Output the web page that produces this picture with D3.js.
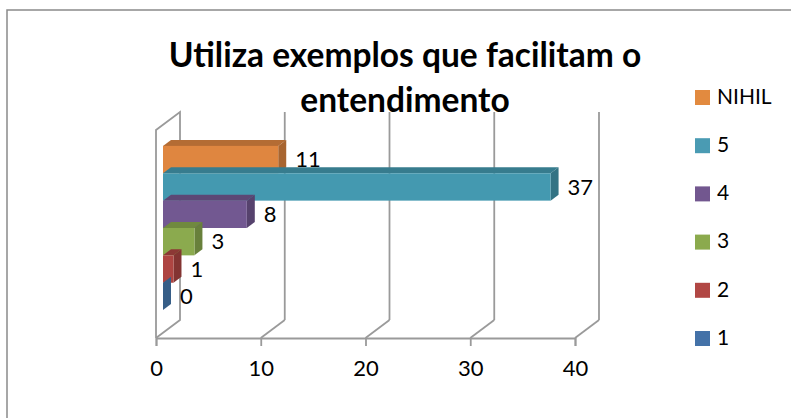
<!DOCTYPE html>
<html>
<head>
<meta charset="utf-8">
<script src="https://cdn.jsdelivr.net/npm/d3@7"></script>
<style>
  body { margin: 0; background: #fff; }
  svg { display: block; font-family: Lato, "Open Sans", sans-serif; }
</style>
</head>
<body>
<svg id="chart" width="791" height="418"></svg>
<script>
// series names, top to bottom as in the legend
const seriesNames = ['NIHIL', '5', '4', '3', '2', '1'];
const seriesValues = [11, 37, 8, 3, 1, 0];
const faceColors = ['#DF8640', '#4499B0', '#725891', '#8BAA4E', '#AE4542', '#3F6C9C'];
const legendColors = ['#E28A3F', '#4A9BB3', '#72578F', '#8BAA4D', '#B14744', '#4472A8'];
const xTicks = [0, 10, 20, 30, 40];
const titleLines = ['Utiliza exemplos que facilitam o', 'entendimento'];

const svg = d3.select('#chart');

// outer chart border (runs off the right and bottom)
svg.append('rect')
  .attr('x', 7).attr('y', 10)
  .attr('width', 800).attr('height', 420)
  .attr('fill', 'none').attr('stroke', '#8a8a8a').attr('stroke-width', 1.5);

// plot geometry: front plane + depth offset
const plotTop = 130, plotBottom = 338;
const depth = {dx: 24, dy: -18};
const barZ0 = {dx: 7, dy: -6}, barZ1 = {dx: 15, dy: -12};

const x = d3.scaleLinear().domain([0, 40]).range([156, 575]);
const y = d3.scaleBand()
  .domain(seriesNames.slice().reverse())
  .range([plotBottom, plotTop])
  .paddingInner(0)
  .paddingOuter(0.8);

const grid = svg.append('g')
  .attr('stroke', '#9a9a9a').attr('stroke-width', 1.8).attr('fill', 'none');

// left wall
grid.append('path').attr('d', d3.line()([
  [x(0), plotBottom], [x(0), plotTop],
  [x(0) + depth.dx, plotTop + depth.dy], [x(0) + depth.dx, plotBottom + depth.dy],
  [x(0), plotBottom]
]));

// back wall gridlines and floor diagonals
xTicks.forEach(t => {
  const bx = x(t) + depth.dx;
  if (t > 0) {
    grid.append('line')
      .attr('x1', bx).attr('x2', bx)
      .attr('y1', plotTop + depth.dy).attr('y2', plotBottom + depth.dy);
    grid.append('line')
      .attr('x1', x(t)).attr('y1', plotBottom)
      .attr('x2', bx).attr('y2', plotBottom + depth.dy);
  }
});

// front x axis
const axis = svg.append('g')
  .attr('transform', `translate(0,${plotBottom})`)
  .call(d3.axisBottom(x).tickValues(xTicks).tickSize(8).tickPadding(14));
axis.select('.domain').attr('stroke', '#9a9a9a').attr('stroke-width', 1.8);
axis.selectAll('.tick line').attr('stroke', '#9a9a9a').attr('stroke-width', 1.8);
axis.selectAll('.tick text')
  .attr('font-family', 'Lato, "Open Sans", sans-serif')
  .attr('font-size', 22).attr('fill', '#000');

// 3D bars
const bars = svg.append('g');
seriesNames.forEach((name, i) => {
  const v = seriesValues[i];
  const col = d3.color(faceColors[i]);
  const side = col.darker(0.8).formatHex();
  const top = col.darker(0.6).formatHex();
  const y0 = y(name), y1 = y(name) + y.bandwidth();
  const xa = x(0), xb = x(v);
  const g = bars.append('g');
  // top face
  if (v > 0) {
    g.append('path').attr('fill', top).attr('d', d3.line()([
      [xa + barZ0.dx, y0 + barZ0.dy], [xa + barZ1.dx, y0 + barZ1.dy],
      [xb + barZ1.dx, y0 + barZ1.dy], [xb + barZ0.dx, y0 + barZ0.dy]
    ]));
  }
  // side face
  g.append('path').attr('fill', v > 0 ? side : col.darker(0.4).formatHex()).attr('d', d3.line()([
    [xb + barZ0.dx, y0 + barZ0.dy], [xb + barZ1.dx, y0 + barZ1.dy],
    [xb + barZ1.dx, y1 + barZ1.dy], [xb + barZ0.dx, y1 + barZ0.dy]
  ]));
  // front face
  if (v > 0) {
    g.append('rect')
      .attr('x', xa + barZ0.dx).attr('y', y0 + barZ0.dy)
      .attr('width', xb - xa).attr('height', y.bandwidth())
      .attr('fill', faceColors[i]);
  }
  // value label
  svg.append('text')
    .attr('x', xb + 24)
    .attr('y', (y0 + y1) / 2 + barZ0.dy + 2)
    .attr('dominant-baseline', 'middle')
    .attr('font-size', 22)
    .attr('fill', '#000')
    .text(v);
});

// title
svg.append('g').selectAll('text')
  .data(titleLines)
  .join('text')
  .attr('x', 405)
  .attr('y', (d, i) => 67 + i * 45)
  .attr('text-anchor', 'middle')
  .attr('font-weight', 'bold')
  .attr('font-size', 33.5)
  .attr('fill', '#000')
  .text(d => d);

// legend
const legend = svg.append('g');
seriesNames.forEach((name, i) => {
  const cy = 97.5 + i * 48.2;
  legend.append('rect')
    .attr('x', 695).attr('y', cy - 7.5)
    .attr('width', 15).attr('height', 15)
    .attr('fill', legendColors[i]);
  legend.append('text')
    .attr('x', 717).attr('y', cy + 1)
    .attr('dominant-baseline', 'middle')
    .attr('font-size', 21)
    .attr('fill', '#000')
    .text(name);
});
</script>
</body>
</html>
